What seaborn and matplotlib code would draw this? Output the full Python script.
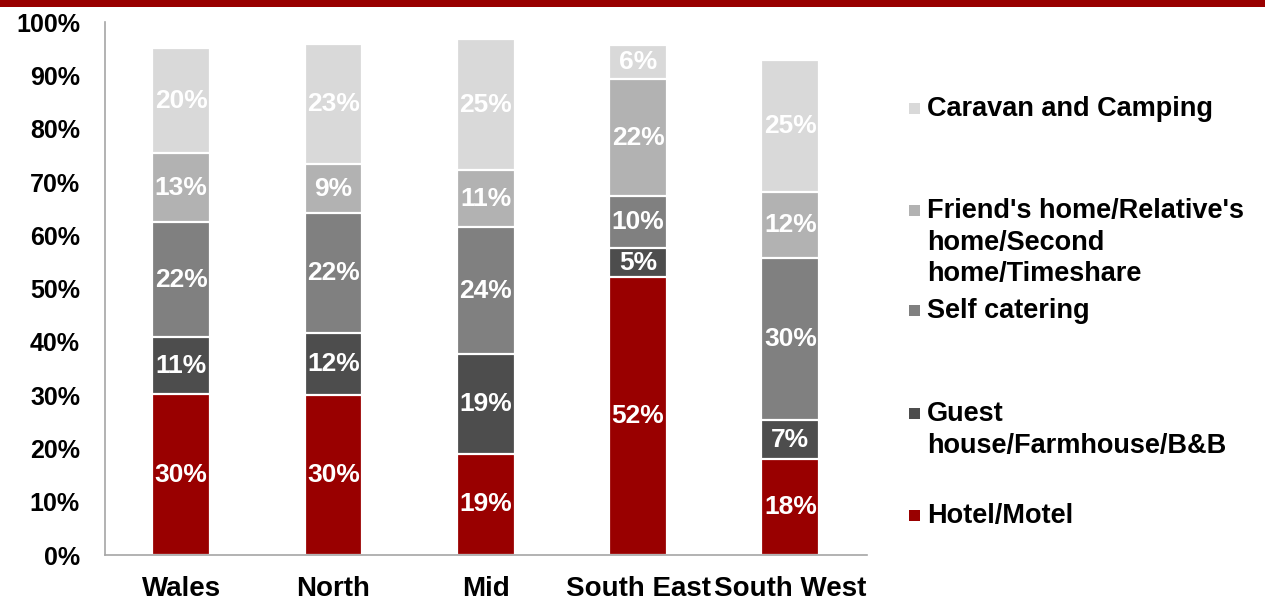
import matplotlib
matplotlib.use("Agg")
import matplotlib.pyplot as plt
import seaborn as sns
import numpy as np
import pandas as pd
from matplotlib.patches import Rectangle

regions = ["Wales", "North", "Mid", "South East", "South West"]
hotel = [30.2, 30.0, 19.0, 52.2, 18.0]
guest = [10.7, 11.7, 18.7, 5.4, 7.3]
self_catering = [21.6, 22.5, 23.8, 9.8, 30.4]
friends = [12.9, 9.2, 10.7, 21.9, 12.4]
caravan = [19.7, 22.6, 24.6, 6.4, 24.8]

series_names = ["Hotel/Motel", "Guest\nhouse/Farmhouse/B&B", "Self catering",
                "Friend's home/Relative's\nhome/Second\nhome/Timeshare", "Caravan and Camping"]
series_vals = [hotel, guest, self_catering, friends, caravan]
colors = ["#990000", "#4D4D4D", "#808080", "#B2B2B2", "#D9D9D9"]
yticks = list(range(0, 101, 10))

sns.set_style("white")
plt.rcParams["font.family"] = ["Liberation Sans", "DejaVu Sans"]
plt.rcParams["font.weight"] = "bold"

fig = plt.figure(figsize=(12.65, 6.13), dpi=100)
ax = fig.add_axes([0.083, 0.0946, 0.602, 0.869])

vals = np.array(series_vals)
cum = np.cumsum(vals, axis=0)
bar_w = 0.38
for i in range(len(series_names) - 1, -1, -1):
    df = pd.DataFrame({"region": regions, "value": cum[i]})
    sns.barplot(data=df, x="region", y="value", color=colors[i], width=bar_w,
                edgecolor="white", linewidth=1.6, saturation=1, ax=ax, order=regions)

for i in range(len(series_names)):
    for j in range(len(regions)):
        v = vals[i, j]
        y = cum[i, j] - v / 2
        ax.text(j, y, f"{round(v)}%", ha="center", va="center", color="white",
                fontsize=19, fontweight="bold")

ax.set_xlim(-0.5, len(regions) - 0.5)
ax.set_ylim(0, 100)
ax.set_yticks(yticks)
ax.set_yticklabels([f"{t}%" for t in yticks], fontsize=18, fontweight="bold", color="black")
ax.set_xticks(range(len(regions)))
ax.set_xticklabels(regions, fontsize=20, fontweight="bold", color="black")
ax.set_xticks(np.arange(-0.5, len(regions), 1.0), minor=True)
ax.tick_params(axis="x", which="major", length=0, pad=15)
ax.tick_params(axis="x", which="minor", length=8, color="#A6A6A6", width=1.2, direction="out")
ax.tick_params(axis="y", length=6, color="#A6A6A6", width=1.2, direction="out", pad=12)
ax.set_xlabel("")
ax.set_ylabel("")
for s in ["top", "right"]:
    ax.spines[s].set_visible(False)
for s in ["left", "bottom"]:
    ax.spines[s].set_color("#A6A6A6")
    ax.spines[s].set_linewidth(1.2)

# top red band
fig.add_artist(Rectangle((0, 1 - 7 / 613), 1, 7 / 613, transform=fig.transFigure,
                         color="#990000", lw=0))

# legend (manual, PowerPoint-like spacing)
leg_y = {"Caravan and Camping": 108, "Friend's home/Relative's\nhome/Second\nhome/Timeshare": 210,
         "Self catering": 310, "Guest\nhouse/Farmhouse/B&B": 413, "Hotel/Motel": 515}
for name, c in zip(series_names, colors):
    ypx = leg_y[name]
    yf = 1 - ypx / 613
    fig.add_artist(Rectangle((909 / 1265, yf - 6 / 613), 11 / 1265, 11 / 613,
                             transform=fig.transFigure, color=c, lw=0))
    fig.text(927 / 1265, yf + 12 / 613, name, ha="left", va="top", fontsize=19.5,
             fontweight="bold", color="black", linespacing=1.28)

fig.savefig("out.png", dpi=100)
